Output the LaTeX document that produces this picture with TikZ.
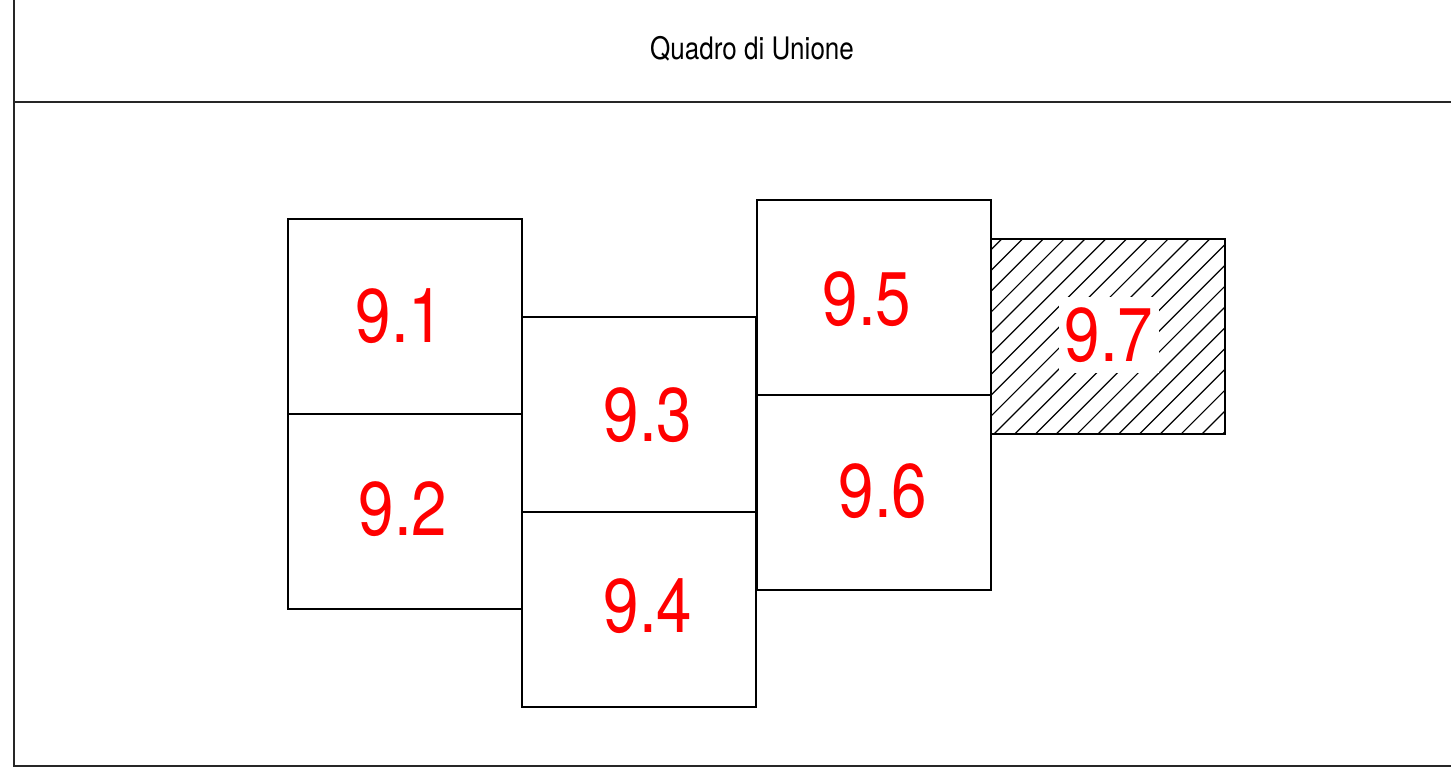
\documentclass[tikz,border=0pt]{standalone}
\usepackage{fontspec}
\newfontfamily\cond[FakeStretch=0.84]{TeX Gyre Heros}
\begin{document}
\begin{tikzpicture}[x=1pt,y=-1pt,
  frameline/.style={line width=1.8pt,draw=black!85},
  cell/.style={draw=black,line width=1.3pt,minimum width=234pt,minimum height=195pt,inner sep=0pt,outer sep=0pt},
  lbl/.style={text=red,font=\cond\fontsize{76}{80}\selectfont,inner sep=0pt},
  ttl/.style={font=\cond\fontsize{31}{34}\selectfont,inner sep=0pt}]
\useasboundingbox (0,0) rectangle (1451,769);
% frame
\coordinate (ftl) at (14,-5);
\coordinate (fbl) at (14,766);
\coordinate (fbr) at (1456,766);
\coordinate (hl) at (14,102);
\coordinate (hr) at (1456,102);
\draw[frameline] (ftl) -- (fbl) -- (fbr);
\draw[frameline] (hl) -- (hr);
\node[ttl] (title) at (752,49) {Quadro di Unione};
% hatching of 9.7
\begin{scope}
\clip (991,239) rectangle (1225,434);
\foreach \i in {0,...,21}{
  \draw[line width=1.2pt] (806.7+20.8*\i,434) -- ++(195,-195);
}
\end{scope}
% cells
\node[cell] (c1) at (405,316.5) {};
\node[cell] (c2) at (405,511.5) {};
\node[cell] (c3) at (639,414.5) {};
\node[cell] (c4) at (639,609.5) {};
\node[cell] (c5) at (874,297.5) {};
\node[cell] (c6) at (874,492.5) {};
\node[cell] (c7) at (1108,336.5) {};
% labels
\node[lbl] (l1) at (400,316) {9.1};
\node[lbl] (l2) at (403,509) {9.2};
\node[lbl] (l3) at (648,415) {9.3};
\node[lbl] (l4) at (648,606) {9.4};
\node[lbl] (l5) at (867,299) {9.5};
\node[lbl] (l6) at (883,491) {9.6};
\node[lbl,fill=white,inner xsep=6pt,inner ysep=10pt] (l7) at (1109,335) {9.7};
\end{tikzpicture}
\end{document}
